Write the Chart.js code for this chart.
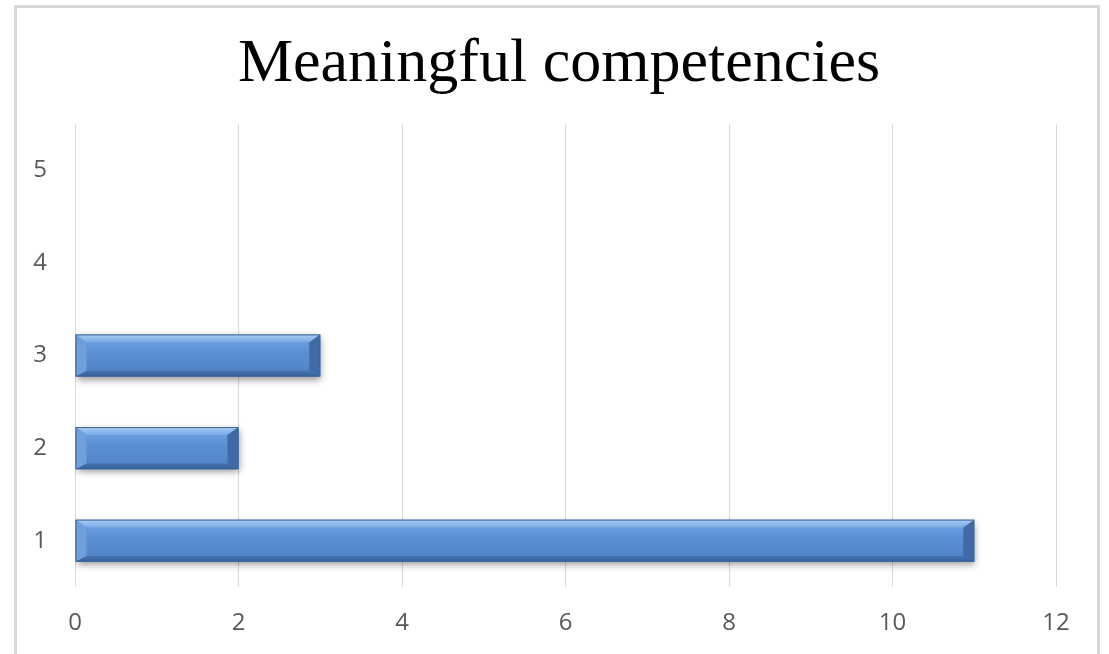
<!DOCTYPE html>
<html>
<head>
<meta charset="utf-8">
<title>Meaningful competencies</title>
<script src="https://cdn.jsdelivr.net/npm/chart.js@4"></script>
<style>
  html, body { margin: 0; padding: 0; background: #fff; overflow: hidden; }
  #wrap { position: relative; width: 1109px; height: 654px; }
  #frame {
    position: absolute; left: 14px; top: 5px; width: 1086px; height: 700px;
    border: 3px solid #d9d9d9; box-sizing: border-box;
  }
  canvas { position: absolute; left: 0; top: 0; }
</style>
</head>
<body>
<div id="wrap">
  <div id="frame"></div>
  <canvas id="myChart" width="1109" height="654"></canvas>
</div>
<script>
const categories = ["1", "2", "3", "4", "5"];
const counts = [11, 2, 3, 0, 0];
const xMin = 0;
const xMax = 12;
const xStep = 2;

// raised-bar look: bevelled edges on top of the plain library fill
const bevelPlugin = {
  id: "bevel",
  beforeDatasetsDraw(chart) {
    const ctx = chart.ctx;
    ctx.save();
    ctx.shadowColor = "rgba(0,0,0,0.4)";
    ctx.shadowBlur = 7;
    ctx.shadowOffsetX = 1;
    ctx.shadowOffsetY = 3;
  },
  afterDatasetsDraw(chart) {
    const ctx = chart.ctx;
    ctx.restore();
    const meta = chart.getDatasetMeta(0);
    meta.data.forEach((bar) => {
      const p = bar.getProps(["x", "y", "base", "height"], true);
      const l = Math.min(p.base, p.x);
      const r = Math.max(p.base, p.x);
      if (r - l < 1) return;
      const t = p.y - p.height / 2;
      const b = p.y + p.height / 2;
      const bt = 8, bb = 6, bs = 11;

      // face
      const face = ctx.createLinearGradient(0, t + bt, 0, b - bb);
      face.addColorStop(0, "#6a9de0");
      face.addColorStop(0.35, "#5b8fd4");
      face.addColorStop(1, "#5284c8");
      ctx.fillStyle = face;
      ctx.fillRect(l + bs, t + bt, r - l - 2 * bs, b - t - bt - bb);

      const poly = (pts, fill) => {
        ctx.beginPath();
        ctx.moveTo(pts[0][0], pts[0][1]);
        for (let i = 1; i < pts.length; i++) ctx.lineTo(pts[i][0], pts[i][1]);
        ctx.closePath();
        ctx.fillStyle = fill;
        ctx.fill();
      };
      const topG = ctx.createLinearGradient(0, t, 0, t + bt);
      topG.addColorStop(0, "#a9cdf2");
      topG.addColorStop(1, "#79aae6");
      poly([[l, t], [r, t], [r - bs, t + bt], [l + bs, t + bt]], topG);
      const botG = ctx.createLinearGradient(0, b - bb, 0, b);
      botG.addColorStop(0, "#4674b2");
      botG.addColorStop(1, "#355f96");
      poly([[l, b], [r, b], [r - bs, b - bb], [l + bs, b - bb]], botG);
      poly([[l, t], [l + bs, t + bt], [l + bs, b - bb], [l, b]], "#6f9fdd");
      poly([[r, t], [r - bs, t + bt], [r - bs, b - bb], [r, b]], "#3f6aa6");

      ctx.strokeStyle = "#3d6699";
      ctx.lineWidth = 1;
      ctx.strokeRect(l + 0.5, t + 0.5, r - l - 1, b - t - 1);
    });
  },
};

new Chart("myChart", {
  type: "bar",
  data: {
    labels: categories,
    datasets: [
      {
        data: counts,
        backgroundColor: "#5a8dd0",
        borderWidth: 0,
        barPercentage: 0.455,
        categoryPercentage: 1,
      },
    ],
  },
  options: {
    indexAxis: "y",
    responsive: false,
    animation: false,
    layout: { padding: { left: 29, right: 20, top: 0, bottom: 0 } },
    plugins: {
      legend: { display: false },
      tooltip: { enabled: false },
      title: {
        display: true,
        text: "Meaningful competencies",
        color: "#000",
        font: { family: "'Liberation Serif', 'Times New Roman', serif", size: 62, weight: "normal" },
        padding: { top: 28, bottom: 21.6 },
      },
    },
    scales: {
      x: {
        min: xMin,
        max: xMax,
        ticks: {
          stepSize: xStep,
          color: "#595959",
          padding: 22,
          font: { family: "'Open Sans', sans-serif", size: 24 },
        },
        grid: { color: "#d9d9d9", lineWidth: 1, drawTicks: false },
        border: { display: false },
        afterFit(scale) { scale.height = 67; },
      },
      y: {
        reverse: true,
        ticks: {
          color: "#595959",
          padding: 28,
          font: { family: "'Open Sans', sans-serif", size: 24 },
        },
        grid: { display: false, drawTicks: false },
        border: { display: false },
        afterFit(scale) { scale.width = 46; },
      },
      // empty right-hand margin so the plot ends short of the frame
      yRight: {
        type: "category",
        position: "right",
        ticks: { display: false },
        grid: { display: false, drawTicks: false },
        border: { display: false },
        afterFit(scale) { scale.width = 33; },
      },
    },
  },
  plugins: [bevelPlugin],
});
</script>
</body>
</html>
